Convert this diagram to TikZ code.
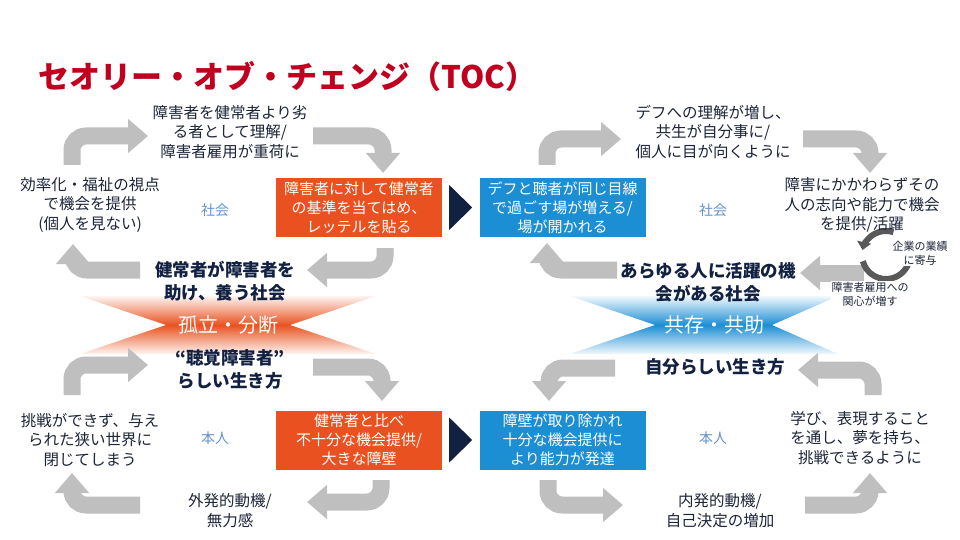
\documentclass[tikz,border=0pt]{standalone}
\usepackage{fontspec}
\setmainfont{Noto Sans CJK JP}
\usetikzlibrary{arrows.meta}
\definecolor{figNaranja}{RGB}{233,82,32}
\definecolor{figAzul}{RGB}{28,142,212}
\definecolor{figMarino}{RGB}{18,32,66}
\definecolor{figRojo}{RGB}{192,0,30}
\definecolor{figGris}{RGB}{191,191,191}
\definecolor{figGrisOsc}{RGB}{89,89,89}
\definecolor{figTexto}{RGB}{28,36,56}
\definecolor{figCeleste}{RGB}{98,146,206}
\tikzset{
  bloquen/.style={
    rectangle, fill=figNaranja, minimum width=166pt, minimum height=59pt,
    align=center, text=white, inner sep=0pt,
    font=\fontsize{15}{19}\selectfont
  },
  bloquea/.style={bloquen, fill=figAzul},
  texto/.style={align=center, text=figTexto, inner sep=0pt,
    font=\fontsize{15.5}{19.8}\selectfont},
  textob/.style={align=center, text=figMarino, inner sep=0pt,
    font=\fontsize{17.5}{23}\selectfont\bfseries},
  textop/.style={align=center, text=figTexto, inner sep=1pt, fill=white,
    font=\fontsize{11}{14}\selectfont},
  etiqueta/.style={text=figCeleste, inner sep=0pt,
    font=\fontsize{14}{16}\selectfont},
  lema/.style={text=white, inner sep=0pt, font=\fontsize{20}{22}\selectfont},
  flechag/.style={-{Triangle[width=33pt,length=20pt]}, line width=17pt,
    draw=figGris, rounded corners=14pt},
  flechac/.style={-{Triangle[width=14pt,length=8pt]}, line width=6pt,
    draw=figGrisOsc},
  pico/.style={fill=figMarino},
  lazon/.style={top color=figNaranja!6, bottom color=figNaranja!6,
    middle color=figNaranja},
  lazoa/.style={top color=figAzul!6, bottom color=figAzul!6,
    middle color=figAzul}
}

\begin{document}
\begin{tikzpicture}[x=1pt, y=-1pt]
  \useasboundingbox (0,0) rectangle (960,540);

  % titulo
  \node[anchor=west, text=figRojo, inner sep=0pt,
    font=\fontsize{31}{34}\selectfont\bfseries] (titulo) at (38,77)
    {セオリー・オブ・チェンジ（TOC）};

  % puntos de las flechas grises
  \coordinate (lt1a) at (72,165);  \coordinate (lt1b) at (148,136);
  \coordinate (lt2a) at (313,136); \coordinate (lt2b) at (383,173);
  \coordinate (lt3a) at (385,248); \coordinate (lt3b) at (307,270);
  \coordinate (lt4a) at (140,270); \coordinate (lt4b) at (73,244);
  \coordinate (lb1a) at (72,395);  \coordinate (lb1b) at (148,365);
  \coordinate (lb2a) at (313,367); \coordinate (lb2b) at (382,401);
  \coordinate (lb3a) at (381,480); \coordinate (lb3b) at (307,502);
  \coordinate (lb4a) at (140,505); \coordinate (lb4b) at (72,473);
  \coordinate (rt1a) at (547,165); \coordinate (rt1b) at (621,139);
  \coordinate (rt2a) at (803,139); \coordinate (rt2b) at (870,173);
  \coordinate (rt3a) at (864,273); \coordinate (rt3b) at (800,273);
  \coordinate (rt4a) at (617,270); \coordinate (rt4b) at (547,243);
  \coordinate (rb1a) at (615,368); \coordinate (rb1b) at (549,401);
  \coordinate (rb2a) at (873,395); \coordinate (rb2b) at (798,370);
  \coordinate (rb3a) at (548,480); \coordinate (rb3b) at (623,505);
  \coordinate (rb4a) at (805,505); \coordinate (rb4b) at (870,473);
  \coordinate (giro) at (886,255);

  % lazos
  \path[lazon] (80,296) -- (376,296) -- (290,325) -- (376,354)
    -- (80,354) -- (166,325) -- cycle;
  \path[lazoa] (570,296) -- (838,296) -- (772,325) -- (838,354)
    -- (570,354) -- (655,325) -- cycle;
  \node[lema] (aislado) at (228,325) {孤立・分断};
  \node[lema] (convive) at (714,325) {共存・共助};

  % flechas grises
  \draw[flechag] (lt1a) |- (lt1b);
  \draw[flechag] (lt2a) -| (lt2b);
  \draw[flechag] (lt3a) |- (lt3b);
  \draw[flechag] (lt4a) -| (lt4b);
  \draw[flechag] (lb1a) |- (lb1b);
  \draw[flechag] (lb2a) -| (lb2b);
  \draw[flechag] (lb3a) |- (lb3b);
  \draw[flechag] (lb4a) -| (lb4b);
  \draw[flechag] (rt1a) |- (rt1b);
  \draw[flechag] (rt2a) -| (rt2b);
  \draw[flechag] (rt3a) -- (rt3b);
  \draw[flechag] (rt4a) -| (rt4b);
  \draw[flechag] (rb1a) -| (rb1b);
  \draw[flechag] (rb2a) |- (rb2b);
  \draw[flechag] (rb3a) |- (rb3b);
  \draw[flechag] (rb4a) -| (rb4b);

  % ciclo pequeno
  \draw[flechac] (giro) ++(165:24) arc[start angle=165, end angle=-38, radius=24];
  \draw[flechac] (giro) ++(-72:24) arc[start angle=-72, end angle=-168, radius=24];

  % sociedad, izquierda
  \node[texto] (ltArr) at (230,132) {障害者を健常者より劣\\る者として理解/\\障害者雇用が重荷に};
  \node[texto] (ltIzq) at (90,205) {効率化・福祉の視点\\で機会を提供\\(個人を見ない)};
  \node[etiqueta] (ltEt) at (215,210) {社会};
  \node[bloquen] (ltCaja) at (359,207.5) {障害者に対して健常者\\の基準を当てはめ、\\レッテルを貼る};
  \node[textob] (ltAba) at (225,281.5) {健常者が障害者を\\助け、養う社会};

  % persona, izquierda
  \node[textob] (lbArr) at (230,369.5) {“聴覚障害者”\\らしい生き方};
  \node[texto] (lbIzq) at (90,440) {挑戦ができず、与え\\られた狭い世界に\\閉じてしまう};
  \node[etiqueta] (lbEt) at (215,438) {本人};
  \node[bloquen] (lbCaja) at (359,440) {健常者と比べ\\不十分な機会提供/\\大きな障壁};
  \node[texto] (lbAba) at (230,511) {外発的動機/\\無力感};

  % sociedad, derecha
  \node[bloquea] (rtCaja) at (562.5,207.5) {デフと聴者が同じ目線\\で過ごす場が増える/\\場が開かれる};
  \node[texto] (rtArr) at (713,132) {デフへの理解が増し、\\共生が自分事に/\\個人に目が向くように};
  \node[texto] (rtDer) at (862,205) {障害にかかわらずその\\人の志向や能力で機会\\を提供/活躍};
  \node[etiqueta] (rtEt) at (713,210) {社会};
  \node[textob] (rtAba) at (708,282) {あらゆる人に活躍の機\\会がある社会};
  \node[textop] (rtGiro1) at (920,253) {企業の業績\\に寄与};
  \node[textop] (rtGiro2) at (870,294) {障害者雇用への\\関心が増す};

  % persona, derecha
  \node[textob] (rbArr) at (715,367) {自分らしい生き方};
  \node[bloquea] (rbCaja) at (562.5,440) {障壁が取り除かれ\\十分な機会提供に\\より能力が発達};
  \node[etiqueta] (rbEt) at (713,438) {本人};
  \node[texto] (rbDer) at (860,438) {学び、表現すること\\を通し、夢を持ち、\\挑戦できるように};
  \node[texto] (rbAba) at (720,511) {内発的動機/\\自己決定の増加};

  % picos
  \path[pico] (ltCaja.east) ++(7,-22.5) -- ++(23,22.5) -- ++(-23,22.5) -- cycle;
  \path[pico] (lbCaja.east) ++(7,-22.5) -- ++(23,22.5) -- ++(-23,22.5) -- cycle;
\end{tikzpicture}
\end{document}
